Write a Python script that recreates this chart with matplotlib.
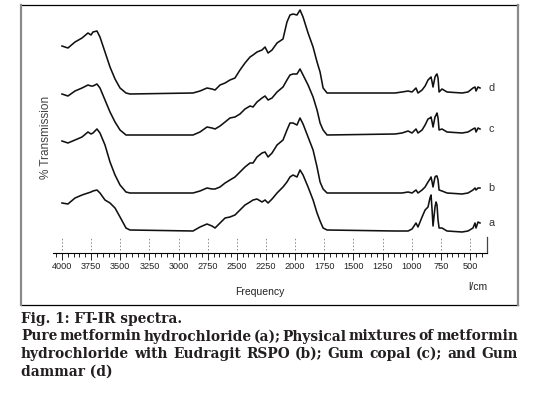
import numpy as np
import matplotlib
matplotlib.use('Agg')
import matplotlib.pyplot as plt
from matplotlib.ticker import MultipleLocator
from matplotlib.lines import Line2D

plt.rcParams['font.family'] = ['Liberation Sans', 'DejaVu Sans']

# wavenumbers (1/cm), shared by the four spectra
wavenumber = [4000, 3949, 3888, 3828, 3777, 3751, 3734, 3700, 3674, 3631,
              3588, 3545, 3502, 3451, 3417, 2876, 2816, 2756, 2713, 2687,
              2644, 2601, 2559, 2516, 2473, 2430, 2387, 2361, 2327, 2284,
              2258, 2232, 2198, 2155, 2104, 2070, 2044, 2018, 1984, 1958,
              1932, 1889, 1846, 1812, 1786, 1760, 1726, 1143, 1083, 1031,
              997, 963, 946, 911, 885, 860, 843, 834, 825, 817,
              800, 791, 783, 774, 765, 740, 697, 568, 517, 474,
              457, 448, 431, 414]

# stacked % transmission (arbitrary units, offset as in the figure)
trans_d = [207, 205, 211, 215, 220, 218, 221, 222, 216, 201,
           186, 174, 165, 160, 159, 160, 162, 165, 164, 163,
           168, 170, 173, 175, 183, 190, 196, 198, 201, 203,
           206, 200, 203, 210, 214, 231, 238, 239, 238, 243,
           236, 220, 206, 191, 181, 165, 160, 160, 161, 162,
           161, 165, 160, 163, 167, 173, 175, 176, 171, 166,
           176, 178, 179, 175, 161, 164, 161, 160, 161, 165,
           166, 162, 166, 165]
trans_c = [159, 157, 162, 165, 168, 167, 167, 169, 165, 153,
           141, 131, 123, 118, 118, 118, 121, 126, 125, 124,
           127, 131, 135, 136, 139, 144, 147, 146, 151, 155,
           157, 153, 155, 161, 166, 173, 178, 179, 179, 184,
           178, 168, 156, 143, 130, 123, 118, 119, 120, 122,
           120, 124, 120, 123, 128, 134, 135, 136, 131, 126,
           136, 138, 140, 135, 123, 124, 121, 120, 121, 124,
           125, 121, 125, 124]
trans_b = [112, 110, 113, 116, 121, 119, 120, 124, 120, 108,
           91, 78, 68, 61, 60, 60, 62, 65, 64, 64,
           66, 70, 73, 76, 81, 86, 90, 90, 96, 100,
           101, 96, 100, 108, 113, 123, 130, 130, 128, 135,
           129, 116, 103, 86, 71, 64, 60, 60, 60, 61,
           60, 63, 60, 63, 66, 71, 74, 76, 71, 66,
           76, 77, 77, 73, 63, 62, 60, 59, 60, 63,
           65, 63, 65, 65]
trans_a = [50, 49, 55, 58, 60, 61, 62, 63, 60, 53,
           50, 45, 36, 25, 23, 22, 26, 29, 27, 25,
           30, 35, 36, 38, 43, 48, 51, 53, 54, 51,
           53, 50, 54, 60, 66, 71, 76, 78, 76, 83,
           78, 66, 53, 40, 32, 25, 23, 22, 22, 22,
           24, 30, 26, 36, 43, 46, 55, 58, 43, 27,
           46, 51, 48, 33, 25, 25, 22, 21, 22, 25,
           30, 25, 31, 30]

spectra = [('a', trans_a), ('b', trans_b), ('c', trans_c), ('d', trans_d)]
major_ticks = [4000, 3750, 3500, 3250, 3000, 2750, 2500, 2250, 2000,
               1750, 1500, 1250, 1000, 750, 500]

caption = ['Fig. 1: FT-IR spectra.',
           'Pure metformin hydrochloride (a); Physical mixtures of metformin',
           'hydrochloride with Eudragit RSPO (b); Gum copal (c); and Gum',
           'dammar (d)']

W, H = 544, 395
fig = plt.figure(figsize=(W / 100, H / 100), dpi=100)

# outer frame
fx0, fx1, fy0, fy1 = 21 / W, 518 / W, 1 - 305 / H, 1 - 5 / H
fig.add_artist(Line2D([fx0, fx1], [fy1, fy1], color='black', lw=0.9))
fig.add_artist(Line2D([fx0, fx1], [fy0, fy0], color='black', lw=0.9))
fig.add_artist(Line2D([fx0, fx0], [fy0, fy1], color='#8a8a8a', lw=1.6))
fig.add_artist(Line2D([fx1, fx1], [fy0, fy1], color='#8a8a8a', lw=1.6))

ax = fig.add_axes([53 / W, 1 - 253 / H, 434 / W, 245 / H])
for name, t in spectra:
    ax.plot(wavenumber, t, color='#111111', lw=1.15)
    ax.text(343, t[-1], name, ha='left', va='center', fontsize=7.8,
            color='#333333', clip_on=False)

ax.set_xlim(4077, 354)
ax.set_ylim(0, 245)
for s in ['left', 'right', 'top']:
    ax.spines[s].set_visible(False)
ax.spines['bottom'].set_linewidth(0.8)
ax.set_yticks([])
ax.xaxis.set_major_locator(MultipleLocator(250))
ax.xaxis.set_minor_locator(MultipleLocator(50))
ax.tick_params(axis='x', which='major', length=5, width=0.7, labelsize=6.6,
               pad=1.5, colors='#222222')
ax.tick_params(axis='x', which='minor', length=3, width=0.6)

# short dashed marks above the axis and end marker
ax.vlines(major_ticks, 0.012, 0.062, transform=ax.get_xaxis_transform(),
          colors='#888888', lw=0.7, linestyles=(0, (1.5, 2)))
ax.plot([354, 354], [0, 0.065], transform=ax.get_xaxis_transform(),
        color='#444444', lw=0.9, clip_on=False)

fig.text(260 / W, 1 - 292 / H, 'Frequency', ha='center', va='center',
         fontsize=7.5, color='#222222')
fig.text(478 / W, 1 - 287 / H, 'l/cm', ha='center', va='center',
         fontsize=7.5, color='#222222')
fig.text(46 / W, 1 - 137 / H, '% Transmission', rotation=90, ha='center',
         va='center', fontsize=8.5, color='#444444')

# caption, lines 2 and 3 justified to the frame width
cap_kw = dict(family='DejaVu Serif', weight='bold', fontsize=9.9,
              color='#231f20', va='baseline')
baselines = [323, 340.5, 358, 375.5]
renderer = fig.canvas.get_renderer()
for i, line in enumerate(caption):
    y = 1 - baselines[i] / H
    if i in (1, 2):
        words = line.split()
        texts = [fig.text(0, y, w, **cap_kw) for w in words]
        widths = [t.get_window_extent(renderer).width for t in texts]
        gap = ((518 - 21) - sum(widths)) / (len(words) - 1)
        x = 21
        for t, w in zip(texts, widths):
            t.set_x(x / W)
            x += w + gap
    else:
        fig.text(21 / W, y, line, **cap_kw)

fig.savefig('out.png', dpi=100)
